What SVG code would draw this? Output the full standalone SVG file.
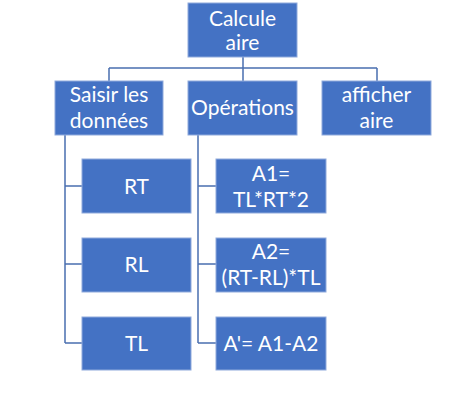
<svg xmlns="http://www.w3.org/2000/svg" width="457" height="412" viewBox="0 0 457 412">
<style>
.box{fill:#4472C4;stroke:#8FAADC;stroke-width:1}
.t{font-family:Lato,"Open Sans",sans-serif;font-size:21px;fill:#ffffff;text-anchor:middle}
.c{fill:none;stroke:#4A6FB0;stroke-width:1.5}
</style>
<rect width="457" height="412" fill="#ffffff"/>
<g id="connectors">
<path class="c" d="M243,57 V81 M109,68 H377 M109,68 V81 M377,68 V81"/>
<path class="c" d="M65,135 V343 M65,186 H82 M65,264 H82 M65,343 H82"/>
<path class="c" d="M198,135 V343 M198,186 H216 M198,264 H216 M198,343 H216"/>
</g>
<g id="calcule-aire"><rect class="box" x="188" y="3" width="109" height="54"/><text class="t" x="242.5" y="26">Calcule</text><text class="t" x="242.5" y="50">aire</text></g>
<g id="saisir"><rect class="box" x="55" y="81" width="108" height="54"/><text class="t" x="109" y="102">Saisir les</text><text class="t" x="109" y="128">données</text></g>
<g id="operations"><rect class="box" x="188" y="81" width="109" height="54"/><text class="t" x="242.5" y="115">Opérations</text></g>
<g id="afficher"><rect class="box" x="322" y="81" width="109" height="54"/><text class="t" x="376.5" y="102">afficher</text><text class="t" x="376.5" y="128">aire</text></g>
<g id="rt"><rect class="box" x="82" y="159" width="109" height="54"/><text class="t" x="136.5" y="194">RT</text></g>
<g id="rl"><rect class="box" x="82" y="238" width="109" height="54"/><text class="t" x="136.5" y="272">RL</text></g>
<g id="tl"><rect class="box" x="82" y="317" width="109" height="53"/><text class="t" x="136.5" y="351">TL</text></g>
<g id="a1"><rect class="box" x="216" y="159" width="110" height="54"/><text class="t" x="271" y="181">A1=</text><text class="t" x="271" y="207">TL*RT*2</text></g>
<g id="a2"><rect class="box" x="216" y="238" width="110" height="54"/><text class="t" x="271" y="259">A2=</text><text class="t" x="271" y="285">(RT-RL)*TL</text></g>
<g id="aprime"><rect class="box" x="216" y="317" width="110" height="53"/><text class="t" x="271" y="351">A'= A1-A2</text></g>
</svg>
